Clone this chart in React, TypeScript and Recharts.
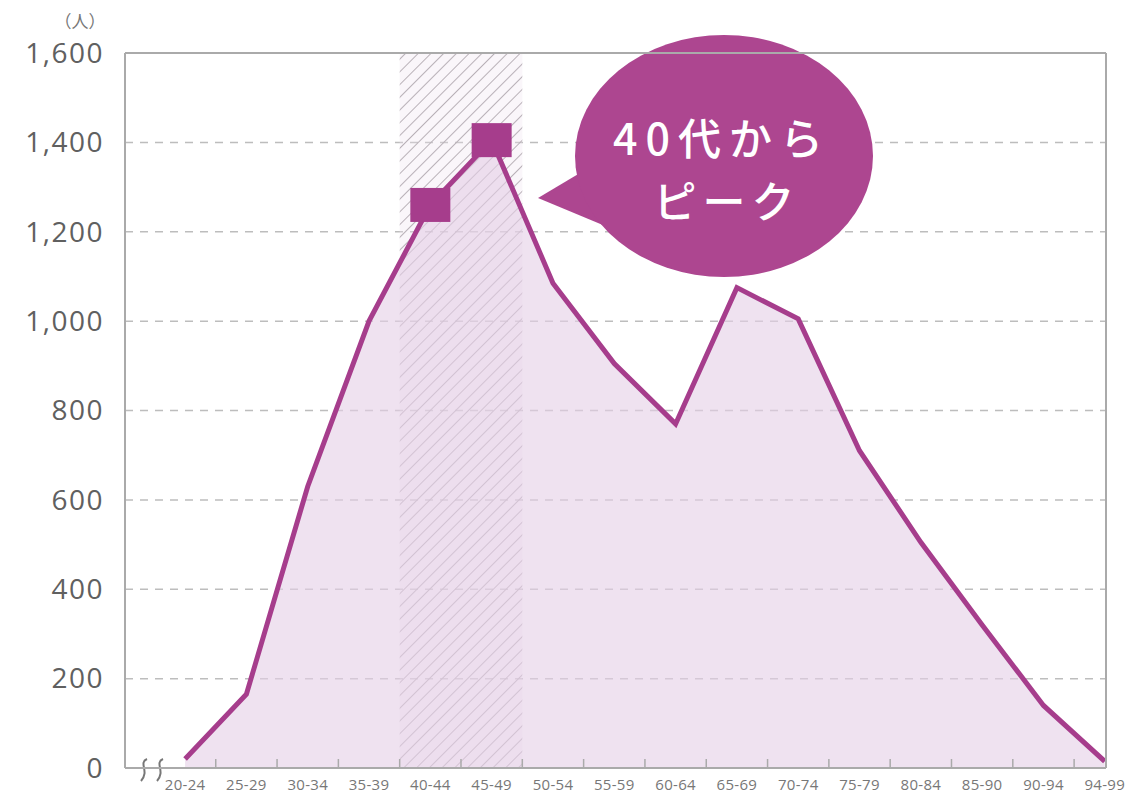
import React from "react";
import {
  ComposedChart,
  Area,
  XAxis,
  YAxis,
  CartesianGrid,
  ReferenceArea,
  ReferenceLine,
  Customized,
} from "recharts";

if (typeof document !== "undefined") document.body.style.margin = "0";

// age groups on the x axis
const ageGroups = [
  "20-24", "25-29", "30-34", "35-39", "40-44", "45-49", "50-54", "55-59",
  "60-64", "65-69", "70-74", "75-79", "80-84", "85-90", "90-94", "94-99",
];

// number of people (人) per age group
const counts = [
  20, 165, 630, 1000, 1260, 1405, 1085, 905,
  770, 1075, 1005, 710, 505, 320, 140, 15,
];

// the highlighted "40代" groups
const peakGroups = ["40-44", "45-49"];

const yTicks = [0, 200, 400, 600, 800, 1000, 1200, 1400, 1600];

const data = ageGroups.map((age, idx) => ({
  idx,
  age,
  count: counts[idx],
  peak: peakGroups.includes(age),
}));

const peakIdx = peakGroups.map((g) => ageGroups.indexOf(g));

const CHART_W = 1136;
const CHART_H = 800;
const MARGIN = { top: 53, right: 30, left: 0, bottom: 0 };
const Y_W = 125;
const X_H = 32;
const X_MIN = -0.98;
const X_MAX = ageGroups.length - 1 + 0.02;
const STEP = (CHART_W - MARGIN.right - Y_W) / (X_MAX - X_MIN);

const LINE = "#a63d8c";
const BUBBLE = "#ad4690";
const AXIS = "#aaaaaa";
const NUM_FONT = "'Open Sans', 'Noto Sans', sans-serif";
const JP_FONT = "'Noto Sans CJK JP', 'Noto Sans', sans-serif";

const YTick = (props: any) => {
  const { x, y, payload } = props;
  return (
    <text
      x={x}
      y={y}
      dy="0.35em"
      textAnchor="end"
      fontSize={28}
      fontFamily={NUM_FONT}
      letterSpacing={1.5}
      fill="#606060"
    >
      {Number(payload.value).toLocaleString("en-US")}
    </text>
  );
};

const XTick = (props: any) => {
  const { x, y, payload } = props;
  const i = Number(payload.value);
  return (
    <g>
      {i < ageGroups.length - 1 && (
        <line
          x1={x + STEP / 2}
          x2={x + STEP / 2}
          y1={y}
          y2={y - 9}
          stroke={AXIS}
          strokeWidth={1.5}
        />
      )}
      <text
        x={x}
        y={y + 22}
        textAnchor="middle"
        fontSize={15}
        fontFamily={NUM_FONT}
        letterSpacing={0.3}
        fill="#777"
      >
        {ageGroups[i]}
      </text>
    </g>
  );
};

const PeakDot = (props: any) => {
  const { cx, cy, payload, index } = props;
  if (!payload || !payload.peak) return <g key={`d${index}`} />;
  return (
    <rect
      key={`d${index}`}
      x={cx - 20}
      y={cy - 17}
      width={40}
      height={34}
      fill={LINE}
    />
  );
};

const Decorations = () => (
  <g>
    <text x={80} y={28} textAnchor="middle" fontSize={17} fontFamily={JP_FONT} fill="#777">
      （人）
    </text>
    {/* axis break mark */}
    <rect x={136} y={764} width={30} height={8} fill="#fff" />
    <path
      d="M147 759 C 138 763, 150 771, 141 781 M163 759 C 154 763, 166 771, 157 781"
      fill="none"
      stroke="#777"
      strokeWidth={2}
    />
    {/* speech bubble */}
    <path d="M538 198 L585 170 L610 228 Z" fill={BUBBLE} />
    <ellipse cx={724} cy={156} rx={149} ry={121} fill={BUBBLE} />
    <text
      x={722}
      y={155}
      textAnchor="middle"
      fontSize={43}
      fontWeight={500}
      fontFamily={JP_FONT}
      letterSpacing={8}
      fill="#fff"
    >
      40代から
    </text>
    <text
      x={727}
      y={218}
      textAnchor="middle"
      fontSize={43}
      fontWeight={500}
      fontFamily={JP_FONT}
      letterSpacing={6}
      fill="#fff"
    >
      ピーク
    </text>
  </g>
);

export default function App() {
  return (
    <div style={{ width: CHART_W, height: CHART_H, background: "#fff" }}>
      <ComposedChart width={CHART_W} height={CHART_H} data={data} margin={MARGIN}>
        <defs>
          <pattern
            id="hatch"
            patternUnits="userSpaceOnUse"
            width={9}
            height={9}
            patternTransform="rotate(45)"
          >
            <rect width={9} height={9} fill="rgba(240,225,238,0.3)" />
            <line x1={0} y1={0} x2={0} y2={9} stroke="#b9b1b8" strokeWidth={2} />
          </pattern>
        </defs>
        <CartesianGrid
          vertical={false}
          stroke="#bdbdbd"
          strokeDasharray="8 7"
          strokeWidth={1.5}
        />
        <ReferenceArea
          x1={Math.min(...peakIdx) - 0.5}
          x2={Math.max(...peakIdx) + 0.5}
          y1={0}
          y2={1600}
          fill="url(#hatch)"
          fillOpacity={1}
          stroke="none"
        />
        <Area
          type="linear"
          dataKey="count"
          stroke={LINE}
          strokeWidth={5}
          fill="#e4cfe6"
          fillOpacity={0.6}
          dot={PeakDot}
          activeDot={false}
          isAnimationActive={false}
        />
        <ReferenceLine y={1600} stroke={AXIS} strokeWidth={2} />
        <ReferenceLine x={X_MAX} stroke={AXIS} strokeWidth={2} />
        <XAxis
          dataKey="idx"
          type="number"
          domain={[X_MIN, X_MAX]}
          ticks={data.map((d) => d.idx)}
          interval={0}
          height={X_H}
          tickLine={false}
          tickSize={0}
          tickMargin={0}
          axisLine={{ stroke: AXIS, strokeWidth: 2 }}
          tick={XTick}
          allowDataOverflow
        />
        <YAxis
          domain={[0, 1600]}
          ticks={yTicks}
          width={Y_W}
          tickLine={false}
          tickSize={0}
          tickMargin={21}
          axisLine={{ stroke: AXIS, strokeWidth: 2 }}
          tick={YTick}
        />
        <Customized component={<Decorations />} />
      </ComposedChart>
    </div>
  );
}
